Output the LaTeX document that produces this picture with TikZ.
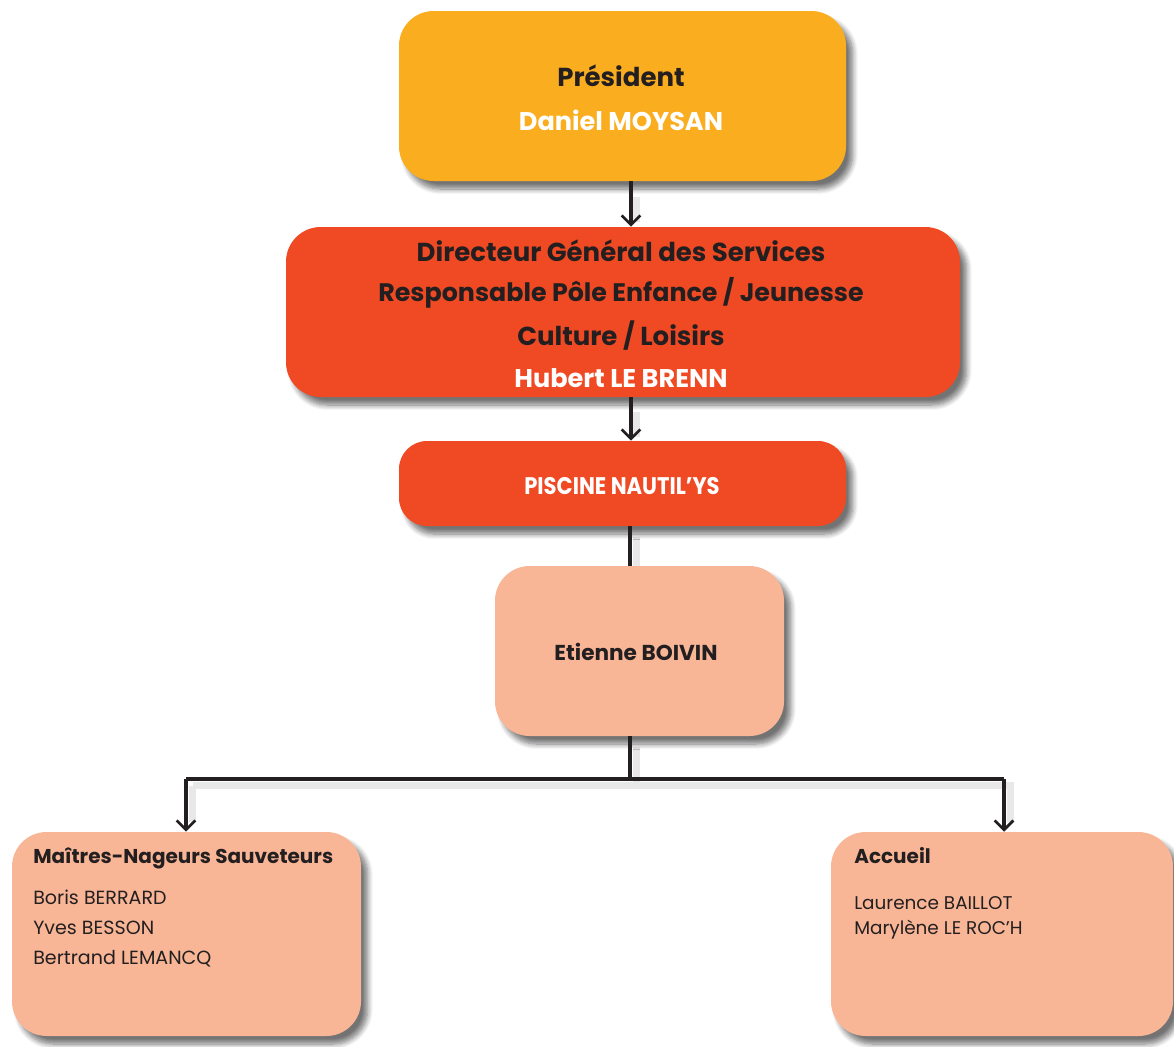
\documentclass[tikz,border=0pt]{standalone}
\usepackage{fontspec}
\setmainfont{Poppins}
\newfontfamily\condensed[FakeStretch=0.88]{Poppins}
\usetikzlibrary{shadows.blur,arrows.meta}

\definecolor{presfill}{HTML}{FAAE1F}
\definecolor{dirfill}{HTML}{EF4A23}
\definecolor{stafffill}{HTML}{F8B696}
\definecolor{ink}{HTML}{231F20}

\tikzset{
  box/.style={rectangle, rounded corners=26pt, inner sep=0pt,
    blur shadow={shadow xshift=5pt, shadow yshift=-6pt, shadow blur steps=8,
      shadow blur radius=4pt, shadow opacity=55}},
  conn/.style={draw=ink, line width=2.3pt},
  connshade/.style={draw=black!9, line width=5pt, transform canvas={xshift=5pt, yshift=-5pt}},
  tip/.style={-{Straight Barb[length=7pt, width=14pt, line width=2.1pt]}},
  head/.style={font=\bfseries\fontsize{19.5}{23}\selectfont, text=ink},
  whitehead/.style={font=\bfseries\fontsize{19.2}{23}\selectfont, text=white},
  member/.style={font=\fontsize{14.3}{22.5}\selectfont, text=ink, align=left, anchor=north west, inner sep=0pt}
}

\begin{document}
\begin{tikzpicture}[x=0.75pt, y=-0.75pt]
  \useasboundingbox (0,0) rectangle (1174,1046);

  % connector guide coordinates
  \coordinate (topline) at (631,0);
  \coordinate (trunk) at (630,0);
  \coordinate (bus) at (630,779);
  \coordinate (lft) at (186,779);
  \coordinate (rgt) at (1004,779);

  % faint shading beside the connectors
  \draw[connshade] (630,190) -- (630,215);
  \draw[connshade] (630,405) -- (630,430);
  \draw[connshade] (630,530) -- (630,560);
  \draw[connshade] (lft) |- (bus) -- (630,740);
  \draw[connshade] (bus) -- (rgt) -- (1004,815);
  \draw[connshade] (lft) -- (186,815);

  % boxes
  \node[box, fill=presfill, minimum width=335.25pt, minimum height=127.5pt] (pres) at (622.5,96) {};
  \node[box, fill=dirfill, minimum width=505.5pt, minimum height=127.5pt] (dir) at (623,312) {};
  \node[box, fill=dirfill, rounded corners=21pt, minimum width=335.25pt, minimum height=63.75pt] (pisc) at (622.5,483.5) {};
  \node[box, fill=stafffill, minimum width=216.75pt, minimum height=127.5pt] (eti) at (639.5,651) {};
  \node[box, fill=stafffill, minimum width=261.75pt, minimum height=153pt] (mns) at (186.5,934) {};
  \node[box, fill=stafffill, minimum width=256.5pt, minimum height=153pt] (acc) at (1002,934) {};

  % texts
  \node[head] (presT) at (621,76) {Président};
  \node[whitehead] (presN) at (621,120) {Daniel MOYSAN};

  \node[head] (dirA) at (621,251) {Directeur Général des Services};
  \node[head, font=\bfseries\fontsize{19}{23}\selectfont] (dirB) at (621,293) {Responsable Pôle Enfance / Jeunesse};
  \node[head] (dirC) at (621,336) {Culture / Loisirs};
  \node[whitehead] (dirN) at (621,378) {Hubert LE BRENN};

  \node[font=\condensed\bfseries\fontsize{18}{21}\selectfont, text=white] (piscT) at (622,486) {PISCINE NAUTIL’YS};

  \node[font=\bfseries\fontsize{16.2}{19}\selectfont, text=ink] (etiT) at (636,652) {Etienne BOIVIN};

  \node[member, font=\bfseries\fontsize{15}{18}\selectfont] (mnsT) at (33,847) {Maîtres-Nageurs Sauveteurs};
  \node[member] (mnsN) at (33,890) {Boris BERRARD\\Yves BESSON\\Bertrand LEMANCQ};

  \node[member, font=\bfseries\fontsize{15}{18}\selectfont] (accT) at (854,847) {Accueil};
  \node[member, font=\fontsize{13.8}{18.75}\selectfont] (accN) at (854,896) {Laurence BAILLOT\\Marylène LE ROC’H};

  % connectors
  \draw[conn, tip] (pres.south -| topline) -- (dir.north -| topline);
  \draw[conn, tip] (dir.south -| topline) -- (pisc.north -| topline);
  \draw[conn] (pisc.south -| trunk) -- (eti.north -| trunk);
  \draw[conn] (eti.south -| trunk) -- (bus);
  \draw[conn] (lft) -- (rgt);
  \draw[conn, tip] (lft) -- (mns.north -| lft);
  \draw[conn, tip] (rgt) -- (acc.north -| rgt);
\end{tikzpicture}
\end{document}
